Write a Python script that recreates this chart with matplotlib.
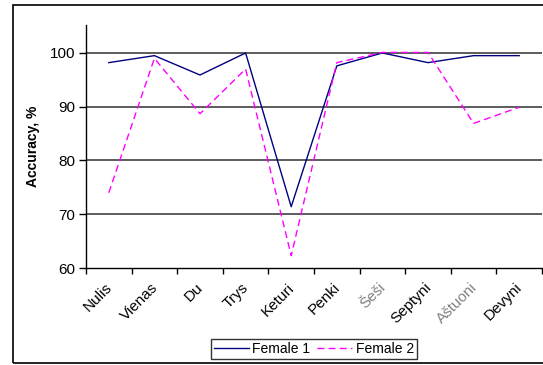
import matplotlib
matplotlib.use("Agg")
import matplotlib.pyplot as plt
import matplotlib.transforms as mtransforms
from matplotlib.patches import Rectangle
import numpy as np

categories = ["Nulis", "Vienas", "Du", "Trys", "Keturi", "Penki", "Šeši", "Septyni", "Aštuoni", "Devyni"]
female1 = [98.2, 99.5, 95.9, 100.0, 71.4, 97.6, 100.0, 98.2, 99.5, 99.5]
female2 = [74.0, 99.0, 88.7, 97.0, 62.3, 98.2, 100.1, 100.1, 86.9, 89.9]
yticks = [60, 70, 80, 90, 100]

plt.rcParams['font.family'] = ['Liberation Sans', 'DejaVu Sans']

W, H = 543, 365
fig = plt.figure(figsize=(W / 100, H / 100), dpi=100)
ax = fig.add_axes([86 / W, 1 - 268 / H, (542 - 86) / W, (268 - 25) / H])

x = np.arange(len(categories))
ax.plot(x, female1, color="#000080", lw=1.0, label="Female 1")
ax.plot(x, female2, color="#FF00FF", lw=1.0, ls=(0, (5, 3)), label="Female 2")

ax.set_xlim(-0.5, len(categories) - 0.5)
ax.set_ylim(60, 105.2)
ax.set_yticks(yticks)
ax.set_yticklabels([str(v) for v in yticks], fontsize=11)
for v in yticks[1:]:
    ax.axhline(v, color="#303030", lw=1.1, zorder=0)

ax.set_xticks(x)
ax.set_xticks(np.arange(len(categories) + 1) - 0.5, minor=True)
ax.tick_params(axis="x", which="major", length=0, pad=9)
ax.tick_params(axis="x", which="minor", length=4, width=1, direction="out")
ax.tick_params(axis="y", length=5, width=1, direction="out", pad=3)
labels = ax.set_xticklabels(categories, rotation=45, ha="right", va="top",
                            rotation_mode="anchor", fontsize=11)
offset = mtransforms.ScaledTranslation(-4 / 100, 0, fig.dpi_scale_trans)
for lab in labels:
    lab.set_transform(lab.get_transform() + offset)
    if lab.get_text() in ("Šeši", "Aštuoni"):
        lab.set_color("#808080")

for s in ("top", "right"):
    ax.spines[s].set_visible(False)
ax.spines["left"].set_linewidth(1)
ax.spines["bottom"].set_linewidth(1)

ax.set_ylabel("Accuracy, %", fontsize=10, fontweight="bold", labelpad=7)

leg = fig.legend(loc="center", bbox_to_anchor=(314 / W, 1 - 349 / H), ncol=2,
                 fontsize=10, frameon=True, fancybox=False, edgecolor="black",
                 handlelength=2.5, handletextpad=0.25, columnspacing=0.5,
                 borderpad=0.25)
leg.get_frame().set_linewidth(1)

fig.patches.append(Rectangle((13 / W, 1 - 363 / H), 1.0, (363 - 5) / H,
                             transform=fig.transFigure, fill=False,
                             edgecolor="black", lw=1.2))

fig.savefig("out.png", dpi=100)
